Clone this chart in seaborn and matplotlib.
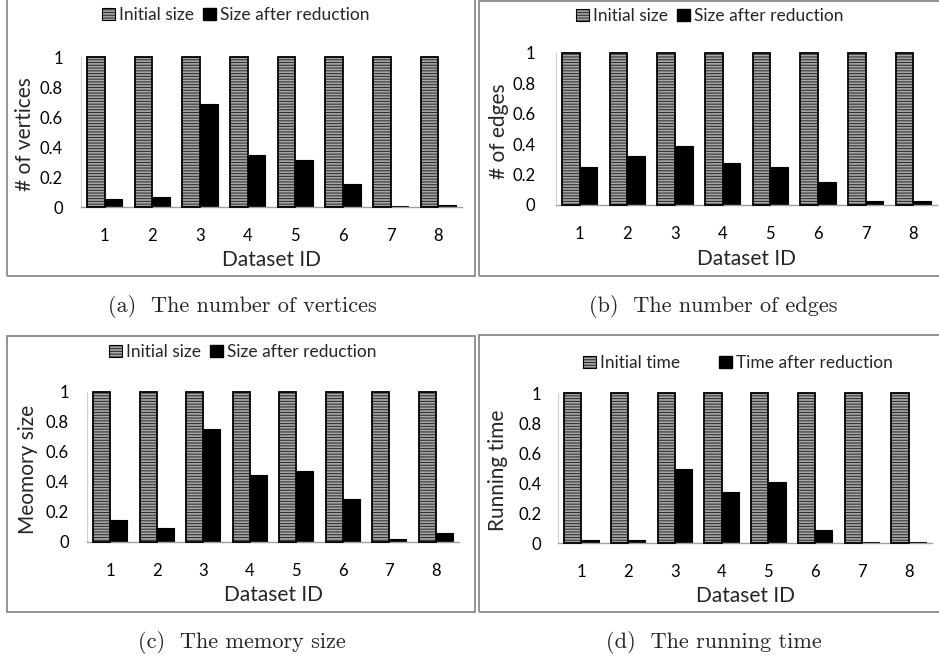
import matplotlib
matplotlib.use("Agg")
import matplotlib.pyplot as plt
from matplotlib.patches import Rectangle
import pandas as pd
import seaborn as sns

# ---- data -------------------------------------------------------------
dataset_ids = ["1", "2", "3", "4", "5", "6", "7", "8"]
initial_values = [1, 1, 1, 1, 1, 1, 1, 1]
vertices_after = [0.051, 0.067, 0.687, 0.344, 0.313, 0.153, 0.007, 0.011]
edges_after = [0.253, 0.323, 0.385, 0.279, 0.251, 0.154, 0.024, 0.024]
memory_after = [0.147, 0.093, 0.751, 0.444, 0.471, 0.289, 0.020, 0.062]
time_after = [0.022, 0.022, 0.491, 0.338, 0.404, 0.087, 0.007, 0.007]

y_ticks = [0, 0.2, 0.4, 0.6, 0.8, 1]
y_tick_labels = ["0", "0.2", "0.4", "0.6", "0.8", "1"]

panels = [
    dict(after=vertices_after, ylabel="# of vertices",
         series=("Initial size", "Size after reduction"),
         caption="(a)  The number of vertices"),
    dict(after=edges_after, ylabel="# of edges",
         series=("Initial size", "Size after reduction"),
         caption="(b)  The number of edges"),
    dict(after=memory_after, ylabel="Meomory size",
         series=("Initial size", "Size after reduction"),
         caption="(c)  The memory size"),
    dict(after=time_after, ylabel="Running time",
         series=("Initial time", "Time after reduction"),
         caption="(d)  The running time"),
]

# ---- layout (pixel geometry of a 939x658 canvas) -----------------------
W, H = 939, 658
axes_px = [(81, 462, 57, 207), (556, 937, 53, 205),
           (87, 459, 392, 542), (558, 932, 393, 543)]
boxes_px = [(7, 475, -5, 276), (479, 945, 1, 276),
            (7, 475, 336, 612), (479, 945, 335, 612)]
legend_px = [(236, 15, 0.5), (710, 16, 0.5), (243, 352, 0.5), (738, 363, 2.2)]
ylabel_x = [25, 499, 28, 498]
ytick_pad = [13, 15, 13, 12]
xlabel_y = [260, 259, 595, 596]
caption_px = [(242, 307), (713, 307), (242, 642), (714, 642)]

STRIPE_FACE = "#a6a6a6"
STRIPE_LINE = "#2e2e2e"

sns.set_theme(style="white")
plt.rcParams["font.family"] = ["Lato", "DejaVu Sans"]
plt.rcParams["hatch.color"] = STRIPE_LINE
plt.rcParams["hatch.linewidth"] = 0.75

fig = plt.figure(figsize=(W / 100, H / 100), dpi=100)
fig.patch.set_facecolor("white")


def fx(x):
    return x / W


def fy(y):
    return 1 - y / H


def striped_patch(**kw):
    return Rectangle((0, 0), 1, 1, facecolor=STRIPE_FACE,
                     edgecolor=STRIPE_LINE, hatch="------", linewidth=0, **kw)


for i, p in enumerate(panels):
    l, r, t, b = axes_px[i]
    ax = fig.add_axes([fx(l), fy(b), (r - l) / W, (b - t) / H])

    init_name, after_name = p["series"]
    df = pd.DataFrame({
        "Dataset ID": dataset_ids * 2,
        "value": list(initial_values) + list(p["after"]),
        "series": [init_name] * len(dataset_ids) + [after_name] * len(dataset_ids),
    })
    sns.barplot(data=df, x="Dataset ID", y="value", hue="series",
                hue_order=[init_name, after_name],
                palette=[STRIPE_FACE, "black"], width=0.74, gap=0,
                dodge=True, legend=False, ax=ax)

    # striped initial bars with a black outline
    for bar in ax.containers[0]:
        bar.set_facecolor(STRIPE_FACE)
        bar.set_edgecolor(STRIPE_LINE)
        bar.set_hatch("------")
        bar.set_linewidth(0)
        ax.add_patch(Rectangle((bar.get_x(), bar.get_y()), bar.get_width(),
                               bar.get_height(), fill=False, edgecolor="black",
                               linewidth=1.3, clip_on=False, zorder=3))
    for bar in ax.containers[1]:
        bar.set_facecolor("black")
        bar.set_edgecolor("black")
        bar.set_linewidth(0.8)

    ax.set_ylim(0, 1)
    ax.set_yticks(y_ticks)
    ax.set_yticklabels(y_tick_labels)
    ax.tick_params(axis="both", length=0, labelsize=12, colors="black")
    ax.tick_params(axis="y", pad=ytick_pad[i])
    ax.tick_params(axis="x", pad=15)
    ax.set_xlabel("")
    ax.set_ylabel("")
    for side in ("top", "right"):
        ax.spines[side].set_visible(False)
    ax.spines["left"].set_color("#d0d0d0")
    ax.spines["left"].set_linewidth(0.8)
    ax.spines["bottom"].set_color("#a0a0a0")
    ax.spines["bottom"].set_linewidth(1.0)
    ax.set_facecolor("white")

    # axis titles
    fig.text(fx((l + r) / 2), fy(xlabel_y[i]), "Dataset ID", ha="center",
             va="center", fontsize=15)
    fig.text(fx(ylabel_x[i]), fy((t + b) / 2 + 2), p["ylabel"], ha="center",
             va="center", rotation=90, fontsize=15)

    # legend
    lx, ly, colsp = legend_px[i]
    h_init = (striped_patch(), Rectangle((0, 0), 1, 1, fill=False,
                                         edgecolor="black", linewidth=0.8))
    h_after = Rectangle((0, 0), 1, 1, facecolor="black", edgecolor="black")
    fig.legend([h_init, h_after], [init_name, after_name], loc="center",
               bbox_to_anchor=(fx(lx), fy(ly)), ncol=2, frameon=False,
               fontsize=12.5, handlelength=0.75, handleheight=0.75,
               handletextpad=0.25, columnspacing=colsp, borderpad=0)

    # frame around the panel
    bl, br, bt, bb = boxes_px[i]
    fig.add_artist(Rectangle((fx(bl), fy(bb)), (br - bl) / W, (bb - bt) / H,
                             transform=fig.transFigure, fill=False,
                             edgecolor="#8a8a8a", linewidth=1.3))

    # caption
    cx, cy = caption_px[i]
    fig.text(fx(cx), fy(cy), p["caption"], ha="center", va="center",
             fontsize=16, family="cmr10")

fig.savefig("out.png", dpi=100, facecolor="white")
